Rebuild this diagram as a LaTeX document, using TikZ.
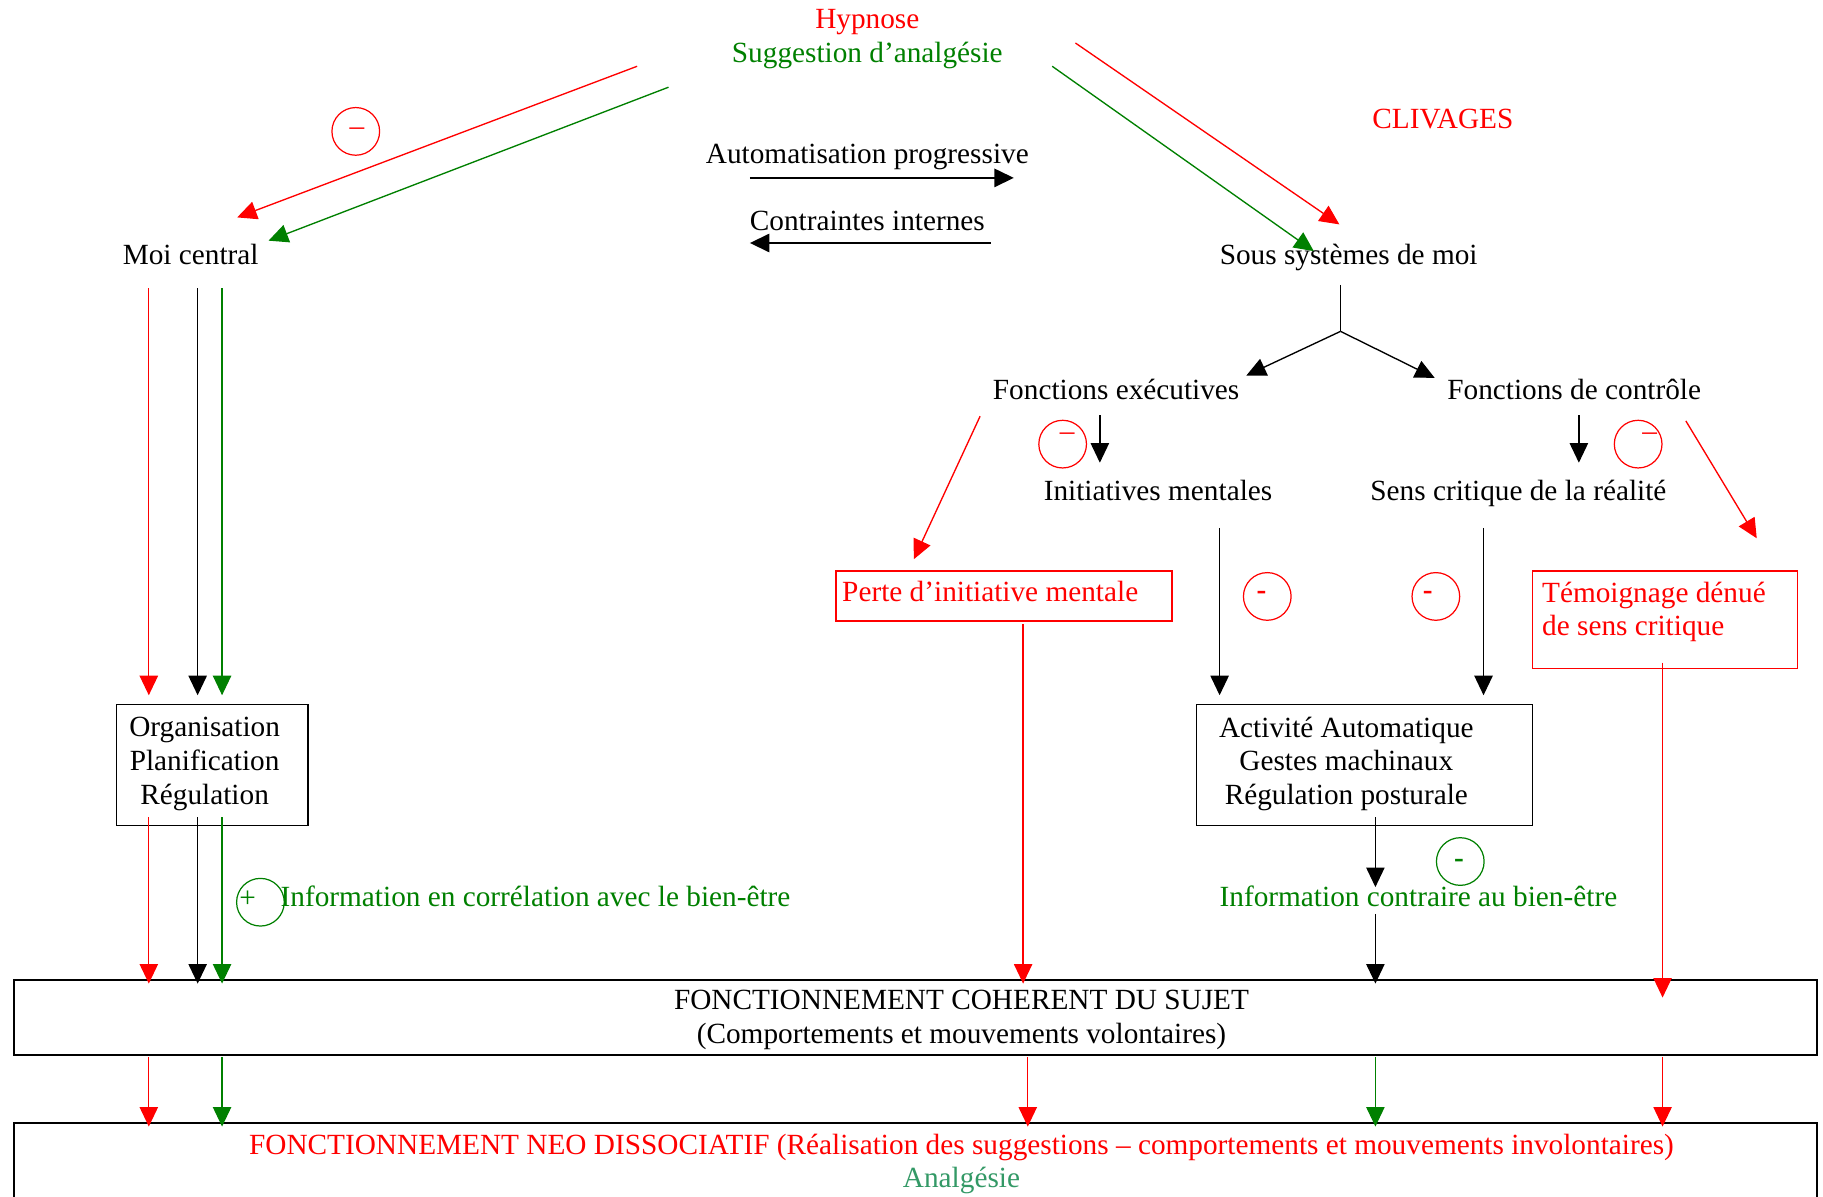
\documentclass[tikz,border=0pt]{standalone}
\usepackage{fontspec}
\setmainfont{Liberation Serif}
\usetikzlibrary{arrows.meta}
\definecolor{dgreen}{RGB}{0,128,0}
\definecolor{sgreen}{RGB}{51,153,102}
\def\u{0.4765pt}
\begin{document}
\begin{tikzpicture}[x=0.4765pt,y=-0.4765pt,
  txt/.style={font=\fontsize{12}{13.8}\selectfont,inner sep=0pt,text height=9.5pt,text depth=1.5pt},
  mtxt/.style={font=\fontsize{12}{13.8}\selectfont,inner sep=0pt,align=center},
  ltxt/.style={font=\fontsize{12}{13.8}\selectfont,inner sep=0pt,align=left},
  box/.style={draw,line width=0.6pt,inner sep=0pt},
  bigbox/.style={draw,line width=0.8pt,inner sep=0pt},
  circ/.style={draw,circle,line width=0.5pt,minimum size=41*\u,inner sep=0pt},
  sym/.style={font=\fontsize{12}{13.8}\selectfont,inner sep=0pt},
  arr/.style={line width=0.55pt,-{Triangle[length=8pt,width=7.5pt]}},
  harr/.style={line width=0.9pt,-{Triangle[length=8pt,width=7.5pt]}},
  ln/.style={line width=0.55pt}]
\clip (0,0) rectangle (1568,1029);
\fill[white] (0,0) rectangle (1568,1029);

% texts
\node[txt,red] (hyp) at (746,16) {Hypnose};
\node[txt,dgreen] (sug) at (746,45) {Suggestion d’analgésie};
\node[txt,red] (cliv) at (1241,102) {CLIVAGES};
\node[txt] (auto) at (746,132) {Automatisation progressive};
\node[txt] (contr) at (746,190) {Contraintes internes};
\node[txt] (moi) at (164,219) {Moi central};
\node[txt] (sous) at (1160,219) {Sous systèmes de moi};
\node[txt] (fexe) at (960,335) {Fonctions exécutives};
\node[txt] (fctl) at (1354,335) {Fonctions de contrôle};
\node[txt] (init) at (996,422) {Initiatives mentales};
\node[txt] (sens) at (1306,422) {Sens critique de la réalité};

% boxes
\node[box,red,minimum width=289*\u,minimum height=43*\u] (perteb) at (863.5,512.5) {};
\node[txt,red,anchor=west] (perte) at (724,509) {Perte d’initiative mentale};
\node[box,red,minimum width=228*\u,minimum height=84*\u] (temb) at (1432,533) {};
\node[ltxt,red,anchor=north west] (tem) at (1326,500) {Témoignage dénué\\de sens critique};
\node[box,minimum width=165*\u,minimum height=104*\u] (orgb) at (182.5,658) {};
\node[mtxt] (org) at (176,657) {Organisation\\Planification\\Régulation};
\node[box,minimum width=289*\u,minimum height=104*\u] (actb) at (1173.5,658) {};
\node[mtxt] (act) at (1158,657) {Activité Automatique\\Gestes machinaux\\Régulation posturale};
\node[bigbox,minimum width=1551*\u,minimum height=64*\u] (cohb) at (787.5,875) {};
\node[mtxt] (coh) at (827,877) {FONCTIONNEMENT COHERENT DU SUJET\\(Comportements et mouvements volontaires)};
\node[bigbox,minimum width=1551*\u,minimum height=120*\u] (neob) at (787.5,1026) {};
\node[mtxt] (neo) at (827,1001) {\textcolor{red}{FONCTIONNEMENT NEO DISSOCIATIF (Réalisation des suggestions – comportements et mouvements involontaires)}\\\textcolor{sgreen}{Analgésie}};

\node[txt,dgreen,anchor=west] (infp) at (241,771) {Information en corrélation avec le bien-être};
\node[txt,dgreen] (infc) at (1220,771) {Information contraire au bien-être};

% circles
\node[circ,red] (c1) at (306,113) {};
\node[sym,red] (c1s) at (307,113) {–};
\node[circ,red] (c2) at (914,382) {};
\node[sym,red] (c2s) at (918,376) {–};
\node[circ,red] (c3) at (1409,382) {};
\node[sym,red] (c3s) at (1419,376) {–};
\node[circ,red] (c4) at (1090,513) {};
\node[sym,red] (c4s) at (1085,512) {\textbf{-}};
\node[circ,red] (c5) at (1235,513) {};
\node[sym,red] (c5s) at (1228,512) {\textbf{-}};
\node[circ,dgreen] (c6) at (224,776) {};
\node[sym,dgreen] (c6s) at (213,773) {+};
\node[circ,dgreen] (c7) at (1256,741) {};
\node[sym,dgreen] (c7s) at (1255,743) {\textbf{-}};

% coordinates
\coordinate (hR) at (548,57);
\coordinate (hG) at (575,75);
\coordinate (moiR) at (204,187);
\coordinate (moiG) at (231,207);
\coordinate (hR2) at (925,37);
\coordinate (hG2) at (905,57);
\coordinate (sousR) at (1152,193);
\coordinate (sousG) at (1130,216);
\coordinate (aS) at (645,153);
\coordinate (aE) at (872,153);
\coordinate (cS) at (852,209);
\coordinate (cE) at (645,209);
\coordinate (sv) at (1153,245);
\coordinate (br) at (1153,285);
\coordinate (fexeT) at (1072,323);
\coordinate (fctlT) at (1234,325);

% top diagonal arrows
\draw[arr,red] (hR) -- (moiR);
\draw[arr,dgreen] (hG) -- (moiG);
\draw[arr,red] (hR2) -- (sousR);
\draw[arr,dgreen] (hG2) -- (sousG);

% horizontal arrows
\draw[harr] (aS) -- (aE);
\draw[harr] (cS) -- (cE);

% branches
\draw[ln] (sv) -- (br);
\draw[arr] (br) -- (fexeT);
\draw[arr] (br) -- (fctlT);

% short arrows
\draw[arr] (946,357) -- (946,398);
\draw[arr] (1358,357) -- (1358,398);
\draw[arr,red] (843,358) -- (786,481);
\draw[arr,red] (1450,362) -- (1511,463);

% to activity box
\draw[arr] (1049,454) -- (1049,598);
\draw[arr] (1276,454) -- (1276,598);

% moi central column
\draw[arr,red] (128,248) -- (128,598);
\draw[arr] (170,248) -- (170,598);
\draw[arr,dgreen] (191,248) -- (191,598);
\draw[arr,red] (128,703) -- (128,846);
\draw[arr] (170,703) -- (170,846);
\draw[arr,dgreen] (191,703) -- (191,846);

% perte, activity, temoignage to coherent
\draw[arr,red] (880,537) -- (880,846);
\draw[arr] (1183,703) -- (1183,763);
\draw[arr] (1183,786) -- (1183,846);
\draw[arr,red] (1430,570) -- (1430,858);

% coherent to neo
\draw[arr,red] (128,909) -- (128,969);
\draw[arr,dgreen] (191,909) -- (191,969);
\draw[arr,red] (884,909) -- (884,969);
\draw[arr,dgreen] (1183,909) -- (1183,969);
\draw[arr,red] (1430,909) -- (1430,969);
\end{tikzpicture}
\end{document}
